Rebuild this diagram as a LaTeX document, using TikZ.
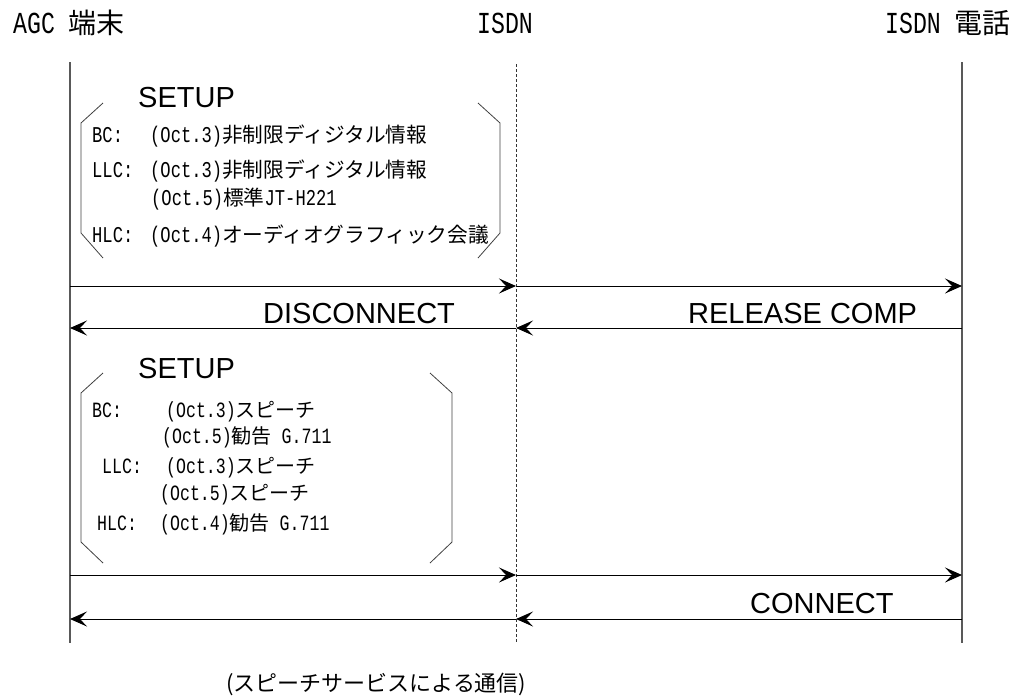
\documentclass[tikz,border=0pt]{standalone}
\usepackage{fontspec}
\setmainfont{Liberation Sans}
\newfontfamily\jp{Noto Sans CJK JP}
\newfontfamily\mono[FakeStretch=0.76,Scale=1.09]{Liberation Mono}
\usetikzlibrary{arrows.meta}
% half-width (monospaced) and full-width runs
\newcommand\hw[1]{{\mono #1}}
\newcommand\fw[1]{{\jp #1}}
\tikzset{
  lifeline/.style={draw=black!65, line width=1.2pt},
  netline/.style={draw=black!80, line width=0.8pt, dash pattern=on 3pt off 2pt},
  msg/.style={draw=black, line width=1pt, -{Stealth[length=17pt,width=15pt,inset=7pt]}},
  brk/.style={draw=black!75, line width=0.8pt},
  head/.style={inner sep=0, anchor=base west, font=\fontsize{28}{32}\selectfont},
  ie/.style={inner sep=0, anchor=base west, font=\fontsize{20.7}{24}\selectfont},
  ietwo/.style={inner sep=0, anchor=base west, font=\fontsize{20}{24}\selectfont},
  msgtext/.style={inner sep=0, anchor=base west, font=\fontsize{29}{32}\selectfont},
}
\begin{document}
\begin{tikzpicture}[x=1pt, y=-1pt]
\useasboundingbox (0,0) rectangle (1016,697);

% entity headers
\node[head] (hA) at (13,33) {\hw{AGC }\fw{端末}};
\node[head] (hN) at (477,33) {\hw{ISDN}};
\node[head] (hT) at (885,33) {\hw{ISDN }\fw{電話}};

% lifelines
\coordinate (aT) at (70,62);  \coordinate (aB) at (70,643);
\coordinate (nT) at (516,64); \coordinate (nB) at (516,642);
\coordinate (tT) at (962,62); \coordinate (tB) at (962,643);
\draw[lifeline] (aT) -- (aB);
\draw[lifeline] (tT) -- (tB);
\draw[netline] (nT) -- (nB);

% message anchor points on the lifelines
\foreach \n/\y in {1/286, 2/328, 3/575, 4/619} {
  \coordinate (a\n) at (70,\y);
  \coordinate (n\n) at (516,\y);
  \coordinate (t\n) at (962,\y);
}

% first SETUP and its information elements
\node[msgtext] (s1) at (138,107) {SETUP};
\draw[brk] (103,103) -- (81,123) -- (81,233) -- (103,258);
\draw[brk] (478,103) -- (500,123) -- (500,233) -- (478,258);
\node[ie] (bc1) at (92,142) {\hw{BC:}};
\node[ie] (bc1v) at (150,142) {\hw{(Oct.3)}\fw{非制限ディジタル情報}};
\node[ie] (llc1) at (92,177) {\hw{LLC:}};
\node[ie] (llc1v) at (150,177) {\hw{(Oct.3)}\fw{非制限ディジタル情報}};
\node[ie] (llc1w) at (151,205) {\hw{(Oct.5)}\fw{標準}\hw{JT-H221}};
\node[ie] (hlc1) at (92,242) {\hw{HLC:}};
\node[ie] (hlc1v) at (150,242) {\hw{(Oct.4)}\fw{オーディオグラフィック会議}};

\draw[msg] (a1) -- (n1);
\draw[msg] (n1) -- (t1);

% release
\node[msgtext] (disc) at (263,323) {DISCONNECT};
\node[msgtext] (rel) at (688,323) {RELEASE COMP};
\draw[msg] (t2) -- (n2);
\draw[msg] (n2) -- (a2);

% second SETUP and its information elements
\node[msgtext] (s2) at (138,378) {SETUP};
\draw[brk] (103,373) -- (81,393) -- (81,542) -- (103,563);
\draw[brk] (430,373) -- (452,393) -- (452,542) -- (430,563);
\node[ietwo] (bc2) at (92,417) {\hw{BC:}};
\node[ietwo] (bc2v) at (166,417) {\hw{(Oct.3)}\fw{スピーチ}};
\node[ietwo] (bc2w) at (162,443) {\hw{(Oct.5)}\fw{勧告}\hw{ G.711}};
\node[ietwo] (llc2) at (102,473) {\hw{LLC:}};
\node[ietwo] (llc2v) at (166,473) {\hw{(Oct.3)}\fw{スピーチ}};
\node[ietwo] (llc2w) at (160,500) {\hw{(Oct.5)}\fw{スピーチ}};
\node[ietwo] (hlc2) at (97,530) {\hw{HLC:}};
\node[ietwo] (hlc2v) at (160,530) {\hw{(Oct.4)}\fw{勧告}\hw{ G.711}};

\draw[msg] (a3) -- (n3);
\draw[msg] (n3) -- (t3);

% connect
\node[msgtext] (conn) at (750,613) {CONNECT};
\draw[msg] (t4) -- (n4);
\draw[msg] (n4) -- (a4);

% caption
\node[inner sep=0, anchor=base west, font=\jp\fontsize{22}{24}\selectfont] (cap) at (226,691) {(スピーチサービスによる通信)};
\end{tikzpicture}
\end{document}
